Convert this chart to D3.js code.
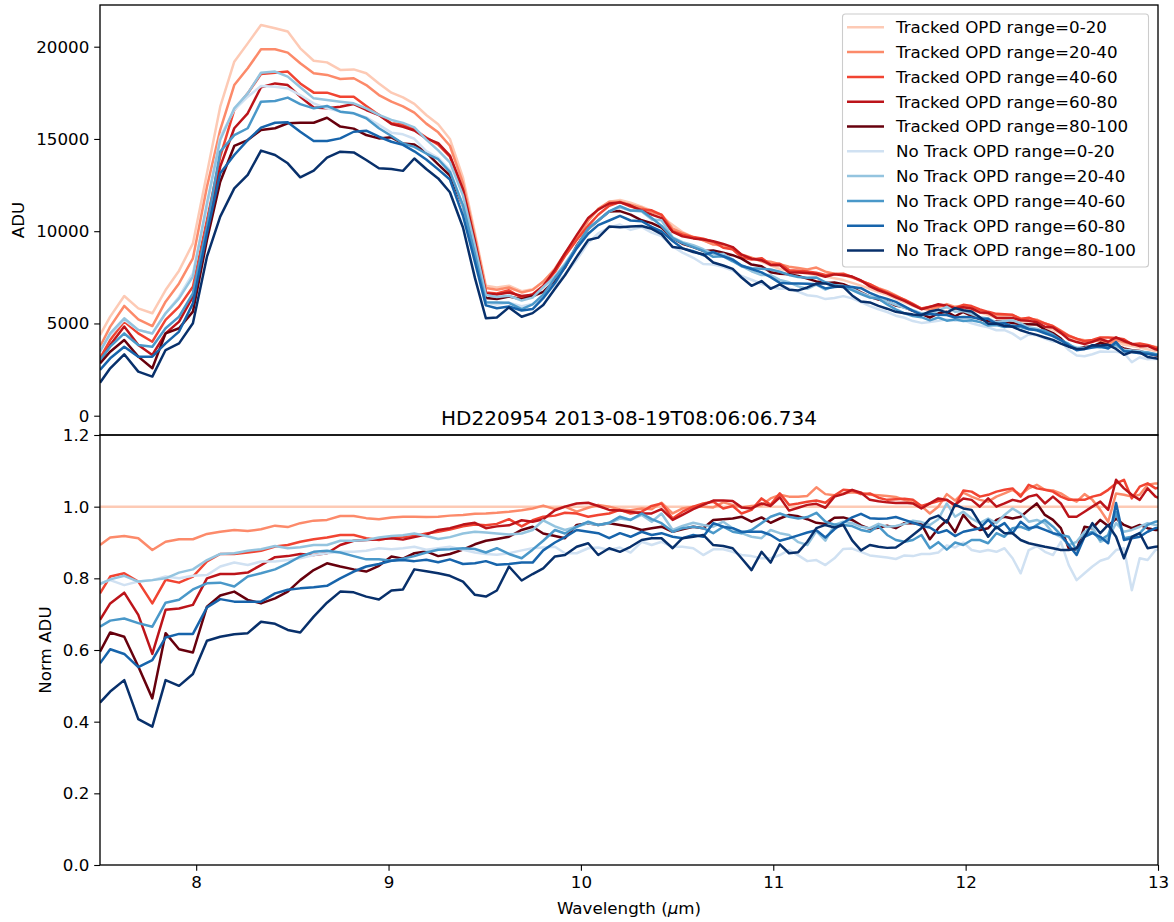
<!DOCTYPE html>
<html>
<head>
<meta charset="utf-8">
<script src="https://cdn.jsdelivr.net/npm/d3@7"></script>
<style>
  body { margin: 0; background: #fff; }
  svg { display: block; font-family: "DejaVu Sans", sans-serif; }
</style>
</head>
<body>
<svg id="chart" width="1174" height="922"></svg>
<script>

// ######### DATA ###########
// Wavelength grid (micron), shared by every series
var wavelength = [7.50, 7.553, 7.626, 7.699, 7.772, 7.841, 7.911, 7.983, 8.056, 8.125,
  8.198, 8.268, 8.337, 8.410, 8.476, 8.541, 8.611, 8.680, 8.749, 8.819,
  8.884, 8.950, 9.015, 9.075, 9.134, 9.196, 9.258, 9.319, 9.387, 9.449,
  9.506, 9.563, 9.626, 9.692, 9.749, 9.804, 9.865, 9.917, 9.978, 10.038,
  10.090, 10.147, 10.203, 10.258, 10.316, 10.368, 10.419, 10.477, 10.528, 10.584,
  10.636, 10.688, 10.740, 10.789, 10.835, 10.887, 10.939, 10.986, 11.034, 11.082,
  11.130, 11.177, 11.224, 11.271, 11.318, 11.364, 11.410, 11.456, 11.502, 11.547,
  11.592, 11.637, 11.682, 11.726, 11.770, 11.814, 11.858, 11.902, 11.945, 11.988,
  12.031, 12.074, 12.117, 12.160, 12.202, 12.244, 12.286, 12.328, 12.370, 12.412,
  12.454, 12.495, 12.536, 12.577, 12.618, 12.659, 12.700, 12.741, 12.782, 12.823,
  12.864, 12.905, 12.946, 12.987, 13.03];

var labels = ["Tracked OPD range=0-20", "Tracked OPD range=20-40", "Tracked OPD range=40-60",
  "Tracked OPD range=60-80", "Tracked OPD range=80-100", "No Track OPD range=0-20",
  "No Track OPD range=20-40", "No Track OPD range=40-60", "No Track OPD range=60-80",
  "No Track OPD range=80-100"];
var colors = ["#fdcab5", "#fc8a6a", "#f14432", "#bc141a", "#67000d",
  "#d0e1f2", "#94c4df", "#4a98c9", "#1764ab", "#08306b"];

var topTicks = [0, 5000, 10000, 15000, 20000];
var bottomTicks = [0, 0.2, 0.4, 0.6, 0.8, 1.0, 1.2];
var xTicks = [8, 9, 10, 11, 12, 13];

// top panel, ADU
var aduTracked0_20 = [4370, 5370, 6490, 5820, 5550, 6810, 7860, 9340, 13140, 16750,
  19190, 20180, 21180, 21000, 20820, 19910, 19240, 19150, 18740, 18770,
  18560, 18010, 17510, 17250, 16900, 16300, 15800, 15000, 12900, 9900,
  7050, 6950, 7050, 6750, 6850, 7250, 7990, 8800, 9700, 10600,
  11150, 11600, 11690, 11550, 11330, 11110, 10790, 10340, 9950, 9680,
  9500, 9300, 9150, 9000, 8750, 8550, 8350, 8150, 7950, 7850,
  7780, 7700, 7620, 7550, 7450, 7350, 7200, 7050, 6880, 6700,
  6550, 6350, 6150, 5950, 5800, 5850, 5900, 5850, 5800, 5750,
  5700, 5600, 5450, 5300, 5250, 5200, 5100, 5000, 4900, 4780,
  4650, 4450, 4250, 4100, 3950, 4000, 4100, 4050, 3950, 3850,
  3780, 3700, 3600, 3500, 3420];
var aduTracked20_40 = [3740, 4830, 5950, 5220, 4860, 6180, 7170, 8530, 12410, 15490,
  17920, 18830, 19860, 19860, 19680, 19100, 18560, 18470, 18250, 18290,
  17920, 17380, 17020, 16770, 16430, 15830, 15360, 14630, 12600, 9700,
  6920, 6830, 6950, 6680, 6820, 7270, 7930, 8800, 9560, 10570,
  11210, 11600, 11600, 11430, 11270, 11030, 10910, 10140, 9900, 9680,
  9500, 9280, 9260, 9050, 8730, 8570, 8380, 8340, 8210, 8070,
  8000, 7930, 8030, 7810, 7690, 7620, 7490, 7320, 7110, 6910,
  6750, 6520, 6270, 6020, 5810, 5740, 5900, 6050, 5900, 5970,
  5860, 5710, 5530, 5450, 5440, 5440, 5270, 5260, 5200, 5000,
  4860, 4610, 4350, 4160, 4090, 4080, 4060, 3880, 4100, 3980,
  3890, 3820, 3820, 3730, 3640];
var aduTracked40_60 = [3110, 4100, 5100, 4460, 4010, 5190, 5910, 6990, 10610, 14040,
  16570, 17470, 18520, 18590, 18650, 18010, 17510, 17510, 17290, 17290,
  16790, 16300, 15850, 15780, 15510, 15080, 14690, 14040, 12190, 9410,
  6680, 6620, 6800, 6380, 6590, 7050, 7790, 8650, 9520, 10300,
  10890, 11380, 11580, 11330, 11170, 11130, 10890, 10000, 9810, 9680,
  9590, 9430, 9100, 9020, 8580, 8470, 8540, 8190, 8240, 7890,
  7850, 7810, 7750, 7630, 7680, 7700, 7520, 7300, 7130, 6870,
  6670, 6480, 6290, 6060, 5810, 5900, 5990, 5960, 5810, 6010,
  5940, 5760, 5630, 5520, 5500, 5470, 5240, 5310, 5150, 5000,
  4850, 4570, 4330, 4180, 4030, 4110, 4240, 4240, 4210, 4140,
  3870, 3910, 3830, 3680, 3610];
var aduTracked60_80 = [2930, 3830, 4830, 3830, 3290, 4460, 5100, 6450, 10250, 13500,
  15580, 16390, 17800, 18010, 17920, 17290, 16710, 16660, 16750, 16890,
  16570, 16300, 15810, 15660, 15460, 15030, 14770, 14100, 12260, 9450,
  6630, 6570, 6680, 6490, 6560, 7000, 7910, 8800, 9790, 10720,
  11170, 11500, 11560, 11390, 11120, 10900, 10710, 9960, 9720, 9610,
  9550, 9460, 9310, 9140, 8730, 8510, 8430, 8170, 8160, 7760,
  7760, 7740, 7680, 7530, 7660, 7610, 7540, 7330, 7010, 6800,
  6630, 6410, 6220, 6000, 5770, 5900, 6040, 5960, 5830, 5880,
  5810, 5600, 5580, 5300, 5300, 5300, 5170, 5140, 5060, 4820,
  4780, 4490, 4130, 3990, 3890, 4000, 4160, 4010, 4250, 4050,
  3900, 3770, 3780, 3600, 3490];
var aduTracked80_100 = [2840, 3470, 4100, 3200, 2570, 4460, 4740, 5640, 9520, 12680,
  14620, 14940, 15490, 15580, 15850, 15880, 15880, 16150, 15670, 15560,
  15210, 15030, 15090, 14750, 14700, 14260, 13620, 13020, 11350, 8860,
  6380, 6320, 6460, 6310, 6470, 6710, 7330, 8030, 9210, 10110,
  10580, 11070, 11090, 10900, 10590, 10440, 10190, 9620, 9320, 9140,
  8930, 8960, 8830, 8700, 8510, 8190, 8100, 7780, 7690, 7670,
  7570, 7430, 7280, 7190, 7220, 7130, 6930, 6680, 6450, 6300,
  6200, 5970, 5870, 5680, 5520, 5320, 5550, 5630, 5390, 5620,
  5410, 5240, 5120, 5100, 5100, 5030, 4960, 4960, 4940, 4670,
  4480, 4180, 3760, 3600, 3730, 3760, 3950, 3830, 3820, 3650,
  3550, 3510, 3380, 3270, 3200];
var aduNoTrack0_20 = [3560, 4370, 5190, 4650, 4460, 5550, 6450, 7720, 11330, 15120,
  16570, 17290, 17870, 17830, 17740, 17380, 16930, 16660, 16480, 16390,
  16170, 15760, 15340, 15250, 15010, 14340, 13970, 13320, 11350, 8630,
  6120, 6020, 6130, 5930, 6060, 6420, 7100, 7660, 8440, 9370,
  9880, 10200, 10360, 10070, 10220, 9920, 9730, 9180, 8840, 8560,
  8220, 8190, 8060, 7870, 7570, 7370, 7150, 6980, 6880, 6900,
  6720, 6530, 6480, 6320, 6380, 6480, 6360, 6160, 5940, 5770,
  5620, 5420, 5310, 5130, 5030, 5080, 5140, 5220, 5140, 5180,
  5010, 4890, 4790, 4630, 4640, 4450, 4150, 4400, 4360, 4180,
  4020, 4010, 3560, 3260, 3220, 3330, 3480, 3470, 3470, 3400,
  2900, 3170, 3060, 3080, 3020];
var aduNoTrack20_40 = [3470, 4460, 5280, 4650, 4460, 5550, 6360, 7540, 11510, 14940,
  16660, 17470, 18590, 18650, 18380, 17800, 17200, 17110, 17020, 16930,
  16660, 16300, 16030, 15870, 15630, 14960, 14380, 13730, 11930, 9210,
  6540, 6430, 6500, 6240, 6400, 6970, 7550, 8230, 9160, 10110,
  10580, 11070, 11300, 11120, 11070, 10640, 10590, 9670, 9410, 9240,
  9020, 8780, 8770, 8460, 8100, 7830, 7620, 7620, 7360, 7230,
  7010, 6880, 7100, 6830, 7070, 7040, 6870, 6660, 6470, 6380,
  6180, 6010, 5850, 5720, 5550, 5550, 5690, 5900, 5640, 5670,
  5510, 5340, 5270, 5060, 5130, 5170, 5000, 4790, 4720, 4560,
  4310, 4080, 3800, 3700, 3670, 3780, 3700, 3690, 3770, 3580,
  3530, 3490, 3430, 3320, 3250];
var aduNoTrack40_60 = [3020, 3740, 4460, 3830, 3740, 4740, 5370, 6630, 10250, 14310,
  15210, 15580, 17020, 17060, 17240, 16890, 16660, 16790, 16480, 16390,
  16120, 15580, 15160, 14750, 14570, 14210, 13900, 13220, 11400, 8730,
  6150, 6140, 6120, 5780, 6030, 6560, 7470, 8140, 9160, 10150,
  10580, 11080, 11360, 11120, 11110, 10720, 10290, 9620, 9350, 9140,
  8930, 8610, 8640, 8370, 8100, 7990, 7970, 7920, 7800, 7630,
  7520, 7480, 7490, 7230, 7080, 6980, 6810, 6590, 6400, 6340,
  6030, 5760, 5550, 5400, 5340, 5170, 5320, 5150, 5220, 5130,
  5170, 5080, 4890, 4910, 4810, 4890, 4810, 4680, 4650, 4600,
  4390, 4100, 3890, 3600, 3640, 3720, 3720, 3730, 3890, 3510,
  3460, 3430, 3420, 3350, 3290];
var aduNoTrack60_80 = [2480, 3110, 3740, 3200, 3200, 3920, 4560, 6090, 9880, 13140,
  14130, 14940, 15610, 15880, 15900, 15390, 14890, 14890, 15030, 15390,
  15450, 15120, 14850, 14680, 14330, 13890, 13350, 12800, 10840, 8340,
  5980, 5820, 5920, 5700, 5780, 6370, 7190, 8050, 9070, 9860,
  10330, 10580, 10830, 10580, 10540, 10230, 9990, 9470, 9070, 8920,
  8700, 8870, 8640, 8460, 8140, 7950, 7770, 7510, 7200, 7160,
  7160, 7150, 7120, 6900, 6980, 7020, 6980, 6910, 6660, 6470,
  6330, 6170, 5920, 5680, 5490, 5510, 5470, 5460, 5320, 5350,
  5330, 5260, 5250, 4980, 5010, 4820, 4890, 4700, 4630, 4470,
  4310, 4100, 3800, 3550, 3620, 3700, 3760, 3640, 3990, 3490,
  3450, 3390, 3350, 3290, 3230];
var aduNoTrack80_100 = [1790, 2570, 3330, 2390, 2120, 3560, 3920, 5010, 8620, 10790,
  12320, 13050, 14370, 14130, 13680, 12920, 13280, 13990, 14310, 14270,
  13860, 13410, 13370, 13270, 13940, 13370, 12860, 12110, 10200, 7470,
  5280, 5320, 5870, 5360, 5560, 6000, 6880, 7610, 8610, 9520,
  9650, 10250, 10220, 10260, 10280, 10130, 9840, 9140, 9070, 8870,
  8750, 8300, 8140, 7960, 7490, 7040, 7300, 6880, 7120, 6830,
  6790, 6950, 7160, 7170, 7020, 6980, 6520, 6190, 6140, 5950,
  5800, 5630, 5550, 5480, 5450, 5650, 5750, 5590, 5830, 5720,
  5650, 5340, 4990, 5000, 4860, 4820, 4630, 4490, 4380, 4240,
  4110, 3910, 3740, 3620, 3620, 3820, 3800, 3840, 3620, 3300,
  3460, 3430, 3180, 3110, 3040];

// bottom panel, ADU normalised by the tracked 0-20 spectrum
var normTracked0_20 = [1, 1, 1, 1, 1, 1, 1, 1, 1, 1, 1, 1, 1, 1, 1, 1, 1, 1, 1, 1,
  1, 1, 1, 1, 1, 1, 1, 1, 1, 1, 1, 1, 1, 1, 1, 1, 1, 1, 1, 1,
  1, 1, 1, 1, 1, 1, 1, 1, 1, 1, 1, 1, 1, 1, 1, 1, 1, 1, 1, 1,
  1, 1, 1, 1, 1, 1, 1, 1, 1, 1, 1, 1, 1, 1, 1, 1, 1, 1, 1, 1,
  1, 1, 1, 1, 1, 1, 1, 1, 1, 1, 1, 1, 1, 1, 1, 1, 1, 1, 1, 1,
  1, 1, 1, 1, 1];
var normTracked20_40 = [0.893, 0.914, 0.918, 0.912, 0.879, 0.902, 0.909, 0.909, 0.924, 0.930,
  0.935, 0.932, 0.937, 0.947, 0.943, 0.954, 0.961, 0.963, 0.974, 0.974,
  0.968, 0.965, 0.970, 0.972, 0.972, 0.971, 0.972, 0.975, 0.977, 0.980,
  0.981, 0.983, 0.986, 0.990, 0.995, 1.003, 0.993, 1.000, 0.986, 0.997,
  1.005, 1.000, 0.992, 0.990, 0.995, 0.993, 1.011, 0.981, 0.995, 1.000,
  1.000, 0.998, 1.012, 1.005, 0.998, 1.002, 1.004, 1.023, 1.033, 1.028,
  1.028, 1.030, 1.054, 1.035, 1.032, 1.037, 1.040, 1.039, 1.033, 1.032,
  1.030, 1.027, 1.019, 1.011, 1.002, 0.981, 1.000, 1.035, 1.017, 1.039,
  1.028, 1.019, 1.014, 1.028, 1.037, 1.047, 1.033, 1.051, 1.061, 1.047,
  1.045, 1.037, 1.023, 1.014, 1.035, 1.019, 0.991, 0.958, 1.037, 1.033,
  1.028, 1.033, 1.061, 1.065, 1.065];
var normTracked40_60 = [0.758, 0.805, 0.814, 0.791, 0.730, 0.796, 0.788, 0.805, 0.847, 0.868,
  0.868, 0.872, 0.877, 0.889, 0.893, 0.902, 0.909, 0.914, 0.921, 0.921,
  0.912, 0.907, 0.914, 0.915, 0.918, 0.925, 0.930, 0.936, 0.945, 0.950,
  0.948, 0.952, 0.965, 0.945, 0.962, 0.972, 0.975, 0.983, 0.981, 0.972,
  0.977, 0.981, 0.991, 0.981, 0.986, 1.002, 1.009, 0.967, 0.986, 1.000,
  1.009, 1.014, 0.995, 1.002, 0.981, 0.991, 1.023, 1.005, 1.037, 1.005,
  1.009, 1.014, 1.017, 1.011, 1.031, 1.047, 1.045, 1.035, 1.037, 1.025,
  1.019, 1.021, 1.022, 1.019, 1.002, 1.009, 1.016, 1.019, 1.002, 1.045,
  1.042, 1.028, 1.033, 1.042, 1.047, 1.051, 1.028, 1.061, 1.051, 1.047,
  1.042, 1.028, 1.019, 1.019, 1.019, 1.028, 1.033, 1.047, 1.065, 1.075,
  1.023, 1.056, 1.065, 1.051, 1.056];
var normTracked60_80 = [0.684, 0.730, 0.760, 0.698, 0.589, 0.712, 0.716, 0.726, 0.800, 0.812,
  0.812, 0.816, 0.837, 0.859, 0.862, 0.868, 0.865, 0.870, 0.893, 0.905,
  0.907, 0.909, 0.912, 0.908, 0.915, 0.922, 0.935, 0.940, 0.950, 0.955,
  0.940, 0.945, 0.948, 0.962, 0.958, 0.965, 0.990, 1.000, 1.009, 1.011,
  1.002, 0.991, 0.989, 0.986, 0.981, 0.981, 0.993, 0.963, 0.977, 0.993,
  1.005, 1.017, 1.017, 1.016, 0.998, 0.995, 1.009, 1.002, 1.026, 0.989,
  0.997, 1.005, 1.008, 0.997, 1.028, 1.035, 1.047, 1.039, 1.019, 1.015,
  1.012, 1.010, 1.011, 1.009, 0.995, 1.009, 1.023, 1.019, 1.005, 1.023,
  1.019, 1.000, 1.023, 1.000, 1.009, 1.019, 1.014, 1.028, 1.033, 1.009,
  1.028, 1.009, 0.972, 0.972, 0.986, 1.000, 1.014, 0.991, 1.075, 1.051,
  1.033, 1.019, 1.051, 1.028, 1.019];
var normTracked80_100 = [0.595, 0.649, 0.637, 0.554, 0.465, 0.647, 0.602, 0.593, 0.721, 0.752,
  0.763, 0.740, 0.730, 0.744, 0.763, 0.795, 0.823, 0.842, 0.833, 0.825,
  0.819, 0.835, 0.861, 0.855, 0.870, 0.875, 0.862, 0.868, 0.880, 0.895,
  0.905, 0.910, 0.916, 0.935, 0.944, 0.925, 0.918, 0.912, 0.949, 0.954,
  0.949, 0.954, 0.949, 0.944, 0.935, 0.940, 0.944, 0.930, 0.937, 0.944,
  0.940, 0.963, 0.965, 0.967, 0.972, 0.958, 0.970, 0.955, 0.967, 0.977,
  0.973, 0.965, 0.955, 0.952, 0.969, 0.970, 0.963, 0.948, 0.938, 0.941,
  0.947, 0.940, 0.954, 0.954, 0.952, 0.909, 0.940, 0.962, 0.929, 0.977,
  0.949, 0.935, 0.940, 0.963, 0.972, 0.967, 0.972, 0.991, 1.009, 0.977,
  0.963, 0.940, 0.884, 0.879, 0.944, 0.940, 0.963, 0.946, 0.967, 0.949,
  0.940, 0.949, 0.940, 0.935, 0.935];
var normNoTrack0_20 = [0.786, 0.795, 0.781, 0.791, 0.795, 0.805, 0.800, 0.807, 0.809, 0.833,
  0.844, 0.837, 0.847, 0.847, 0.851, 0.856, 0.865, 0.870, 0.874, 0.874,
  0.877, 0.884, 0.881, 0.884, 0.888, 0.880, 0.884, 0.888, 0.880, 0.872,
  0.868, 0.866, 0.870, 0.878, 0.884, 0.886, 0.888, 0.870, 0.870, 0.884,
  0.886, 0.879, 0.886, 0.872, 0.902, 0.893, 0.902, 0.888, 0.888, 0.884,
  0.865, 0.881, 0.881, 0.874, 0.865, 0.862, 0.856, 0.856, 0.865, 0.879,
  0.864, 0.848, 0.851, 0.837, 0.856, 0.882, 0.883, 0.874, 0.864, 0.861,
  0.858, 0.854, 0.864, 0.862, 0.868, 0.868, 0.872, 0.892, 0.886, 0.900,
  0.879, 0.874, 0.879, 0.874, 0.884, 0.856, 0.814, 0.879, 0.890, 0.874,
  0.865, 0.902, 0.837, 0.795, 0.814, 0.833, 0.849, 0.856, 0.879, 0.884,
  0.767, 0.856, 0.851, 0.879, 0.884];
var normNoTrack20_40 = [0.784, 0.797, 0.807, 0.791, 0.795, 0.800, 0.816, 0.825, 0.851, 0.868,
  0.870, 0.877, 0.881, 0.890, 0.884, 0.887, 0.893, 0.893, 0.905, 0.905,
  0.907, 0.914, 0.918, 0.920, 0.925, 0.918, 0.910, 0.915, 0.925, 0.930,
  0.928, 0.925, 0.922, 0.925, 0.935, 0.962, 0.945, 0.935, 0.944, 0.954,
  0.949, 0.954, 0.967, 0.963, 0.977, 0.958, 0.981, 0.935, 0.946, 0.955,
  0.949, 0.944, 0.958, 0.940, 0.926, 0.916, 0.912, 0.935, 0.926, 0.921,
  0.901, 0.893, 0.932, 0.905, 0.949, 0.958, 0.954, 0.944, 0.940, 0.952,
  0.944, 0.946, 0.952, 0.961, 0.957, 0.949, 0.965, 1.009, 0.972, 0.986,
  0.967, 0.954, 0.967, 0.954, 0.977, 0.995, 0.981, 0.958, 0.963, 0.954,
  0.926, 0.916, 0.893, 0.902, 0.930, 0.944, 0.902, 0.912, 0.954, 0.930,
  0.935, 0.944, 0.954, 0.949, 0.949];
var normNoTrack40_60 = [0.665, 0.682, 0.688, 0.675, 0.665, 0.732, 0.740, 0.769, 0.786, 0.788,
  0.777, 0.805, 0.814, 0.825, 0.842, 0.861, 0.874, 0.877, 0.872, 0.862,
  0.853, 0.853, 0.849, 0.855, 0.862, 0.872, 0.880, 0.881, 0.884, 0.882,
  0.872, 0.884, 0.868, 0.856, 0.880, 0.905, 0.935, 0.925, 0.944, 0.958,
  0.949, 0.955, 0.972, 0.963, 0.981, 0.965, 0.954, 0.930, 0.940, 0.944,
  0.940, 0.926, 0.944, 0.930, 0.926, 0.935, 0.954, 0.972, 0.981, 0.972,
  0.967, 0.971, 0.983, 0.958, 0.950, 0.949, 0.946, 0.935, 0.930, 0.946,
  0.921, 0.907, 0.902, 0.907, 0.921, 0.884, 0.901, 0.880, 0.900, 0.893,
  0.907, 0.907, 0.898, 0.926, 0.916, 0.940, 0.944, 0.935, 0.949, 0.963,
  0.944, 0.921, 0.916, 0.879, 0.921, 0.930, 0.907, 0.921, 0.985, 0.912,
  0.916, 0.926, 0.949, 0.958, 0.963];
var normNoTrack60_80 = [0.563, 0.602, 0.589, 0.552, 0.572, 0.635, 0.645, 0.645, 0.719, 0.742,
  0.735, 0.735, 0.735, 0.758, 0.768, 0.772, 0.775, 0.779, 0.800, 0.819,
  0.833, 0.840, 0.849, 0.851, 0.848, 0.852, 0.845, 0.853, 0.840, 0.842,
  0.848, 0.838, 0.840, 0.844, 0.844, 0.878, 0.900, 0.915, 0.935, 0.930,
  0.926, 0.912, 0.926, 0.916, 0.930, 0.921, 0.926, 0.916, 0.912, 0.921,
  0.916, 0.954, 0.944, 0.940, 0.930, 0.930, 0.930, 0.921, 0.905, 0.912,
  0.920, 0.928, 0.934, 0.914, 0.937, 0.955, 0.970, 0.980, 0.968, 0.966,
  0.967, 0.971, 0.963, 0.955, 0.947, 0.942, 0.927, 0.934, 0.918, 0.930,
  0.935, 0.940, 0.963, 0.940, 0.954, 0.926, 0.958, 0.940, 0.944, 0.935,
  0.926, 0.921, 0.893, 0.865, 0.916, 0.926, 0.916, 0.898, 1.010, 0.907,
  0.912, 0.916, 0.930, 0.940, 0.944];
var normNoTrack80_100 = [0.453, 0.484, 0.516, 0.407, 0.386, 0.516, 0.500, 0.533, 0.626, 0.637,
  0.644, 0.647, 0.679, 0.673, 0.656, 0.649, 0.693, 0.732, 0.763, 0.761,
  0.749, 0.741, 0.766, 0.769, 0.825, 0.820, 0.814, 0.807, 0.791, 0.754,
  0.749, 0.766, 0.833, 0.794, 0.812, 0.828, 0.861, 0.865, 0.888, 0.898,
  0.865, 0.884, 0.874, 0.888, 0.907, 0.912, 0.912, 0.884, 0.912, 0.916,
  0.921, 0.893, 0.890, 0.884, 0.856, 0.823, 0.874, 0.844, 0.895, 0.870,
  0.873, 0.902, 0.940, 0.949, 0.942, 0.949, 0.906, 0.878, 0.893, 0.888,
  0.885, 0.886, 0.902, 0.921, 0.940, 0.966, 0.975, 0.956, 1.006, 0.995,
  0.991, 0.954, 0.916, 0.944, 0.926, 0.926, 0.907, 0.898, 0.893, 0.888,
  0.884, 0.879, 0.879, 0.884, 0.916, 0.954, 0.926, 0.949, 0.916, 0.856,
  0.916, 0.926, 0.884, 0.888, 0.890];

var aduSeries = [aduTracked0_20, aduTracked20_40, aduTracked40_60, aduTracked60_80, aduTracked80_100,
  aduNoTrack0_20, aduNoTrack20_40, aduNoTrack40_60, aduNoTrack60_80, aduNoTrack80_100];
var normSeries = [normTracked0_20, normTracked20_40, normTracked40_60, normTracked60_80, normTracked80_100,
  normNoTrack0_20, normNoTrack20_40, normNoTrack40_60, normNoTrack60_80, normNoTrack80_100];

// ######### LAYOUT ###########
var left = 100, right = 1158;
var topY0 = 5, topY1 = 435, botY0 = 435, botY1 = 865;
var fontSize = 16.7, tickLen = 5.8, tickPad = 4.9, lineWidth = 2.5;

var svg = d3.select("#chart");

var x = d3.scaleLinear().domain([7.5, 13]).range([left, right]);
var yTop = d3.scaleLinear().domain([-1046, 22260]).range([topY1, topY0]);
var yBot = d3.scaleLinear().domain([0, 1.2]).range([botY1, botY0]);

var defs = svg.append("defs");
defs.append("clipPath").attr("id", "clipTop").append("rect")
    .attr("x", left).attr("y", topY0).attr("width", right - left).attr("height", topY1 - topY0);
defs.append("clipPath").attr("id", "clipBot").append("rect")
    .attr("x", left).attr("y", botY0).attr("width", right - left).attr("height", botY1 - botY0);

function drawLines(clipId, series, yScale) {
    var g = svg.append("g").attr("clip-path", "url(#" + clipId + ")");
    var line = d3.line()
        .x(function(d, i) { return x(wavelength[i]); })
        .y(function(d) { return yScale(d); });
    series.forEach(function(values, k) {
        g.append("path")
            .attr("d", line(values))
            .attr("fill", "none")
            .attr("stroke", colors[k])
            .attr("stroke-width", lineWidth)
            .attr("stroke-linejoin", "round");
    });
}

drawLines("clipTop", aduSeries, yTop);
drawLines("clipBot", normSeries, yBot);

function styleAxis(g) {
    g.select(".domain").remove();
    g.selectAll(".tick line").attr("stroke", "#000").attr("stroke-width", 1.1);
    g.selectAll(".tick text").attr("fill", "#000").style("font-size", fontSize + "px")
        .style("font-family", "'DejaVu Sans', sans-serif");
}

svg.append("g").attr("transform", "translate(" + left + ",0)")
    .call(d3.axisLeft(yTop).tickValues(topTicks).tickFormat(d3.format("d"))
        .tickSize(tickLen).tickPadding(tickPad))
    .call(styleAxis);

svg.append("g").attr("transform", "translate(" + left + ",0)")
    .call(d3.axisLeft(yBot).tickValues(bottomTicks).tickFormat(d3.format(".1f"))
        .tickSize(tickLen).tickPadding(tickPad))
    .call(styleAxis);

svg.append("g").attr("transform", "translate(0," + botY1 + ")")
    .call(d3.axisBottom(x).tickValues(xTicks).tickFormat(d3.format("d"))
        .tickSize(tickLen).tickPadding(tickPad))
    .call(styleAxis);

// spines
[[topY0, topY1], [botY0, botY1]].forEach(function(p) {
    svg.append("rect")
        .attr("x", left).attr("y", p[0])
        .attr("width", right - left).attr("height", p[1] - p[0])
        .attr("fill", "none").attr("stroke", "#000").attr("stroke-width", 1.33);
});

// labels
svg.append("text")
    .attr("transform", "translate(18," + ((topY0 + topY1) / 2) + ") rotate(-90)")
    .attr("text-anchor", "middle").attr("dy", "0.35em")
    .style("font-size", fontSize + "px").text("ADU");

svg.append("text")
    .attr("transform", "translate(45," + ((botY0 + botY1) / 2) + ") rotate(-90)")
    .attr("text-anchor", "middle").attr("dy", "0.35em")
    .style("font-size", fontSize + "px").text("Norm ADU");

var xlab = svg.append("text")
    .attr("x", (left + right) / 2).attr("y", 914)
    .attr("text-anchor", "middle").style("font-size", fontSize + "px");
xlab.append("tspan").text("Wavelength (");
xlab.append("tspan").style("font-style", "italic").text("\u03bc");
xlab.append("tspan").text("m)");

svg.append("text")
    .attr("x", (left + right) / 2).attr("y", botY0 - 10)
    .attr("text-anchor", "middle").style("font-size", "20px")
    .text("HD220954 2013-08-19T08:06:06.734");

// legend
var legend = svg.append("g");
legend.append("rect")
    .attr("x", 842.5).attr("y", 14).attr("width", 306).attr("height", 253)
    .attr("rx", 3).attr("ry", 3)
    .attr("fill", "#fff").attr("fill-opacity", 0.8)
    .attr("stroke", "#cccccc").attr("stroke-width", 1.1);

labels.forEach(function(label, k) {
    var cy = 27.3 + 24.8 * k;
    legend.append("line")
        .attr("x1", 847).attr("x2", 884).attr("y1", cy).attr("y2", cy)
        .attr("stroke", colors[k]).attr("stroke-width", lineWidth);
    legend.append("text")
        .attr("x", 896).attr("y", cy).attr("dy", "0.35em")
        .style("font-size", fontSize + "px").text(label);
});

</script>
</body>
</html>
